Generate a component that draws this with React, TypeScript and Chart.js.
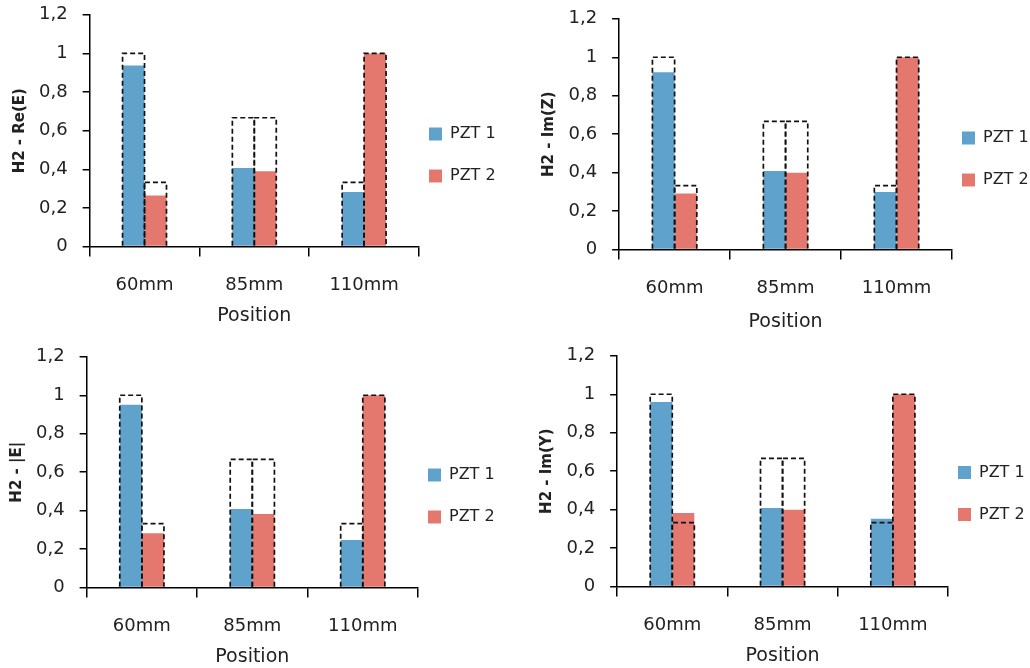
import React, { useEffect, useRef } from 'react';
import { Chart, registerables } from 'chart.js';

Chart.register(...registerables);

// ---------- data ----------
const categories = ['60mm', '85mm', '110mm'];
const seriesNames = ['PZT 1', 'PZT 2'];
const yTicks = [0, 0.2, 0.4, 0.6, 0.8, 1, 1.2];

// expected (dashed outline) values
const expectedPzt1 = [1, 0.667, 0.333];
const expectedPzt2 = [0.333, 0.667, 1];

// H2 - Re(E)
const reEPzt1 = [0.938, 0.407, 0.283];
const reEPzt2 = [0.264, 0.39, 1.0];
// H2 - Im(Z)
const imZPzt1 = [0.922, 0.409, 0.3];
const imZPzt2 = [0.292, 0.4, 1.0];
// H2 - |E|
const absEPzt1 = [0.951, 0.409, 0.247];
const absEPzt2 = [0.283, 0.383, 1.0];
// H2 - Im(Y)
const imYPzt1 = [0.96, 0.409, 0.353];
const imYPzt2 = [0.383, 0.4, 1.0];

const yTitles = ['H2 - Re(E)', 'H2 - Im(Z)', 'H2 - |E|', 'H2 - Im(Y)'];
const xTitle = 'Position';

// ---------- styles ----------
const FONT = 'DejaVu Sans';
const BLUE = '#5fa3cd';
const RED = '#e4786f';
const TEXT = '#222222';

const dashedOutline = {
  id: 'dashedOutline',
  afterDatasetsDraw(chart: any) {
    const ctx = chart.ctx;
    chart.data.datasets.forEach((ds: any, i: number) => {
      if (!ds.outlineOnly) return;
      const meta = chart.getDatasetMeta(i);
      ctx.save();
      ctx.setLineDash([5, 3]);
      ctx.lineWidth = 1.7;
      ctx.strokeStyle = '#111111';
      meta.data.forEach((el: any) => {
        const { x, y, base, width } = el.getProps(['x', 'y', 'base', 'width'], true);
        const left = x - width / 2;
        ctx.beginPath();
        ctx.moveTo(left, base);
        ctx.lineTo(left, y);
        ctx.lineTo(left + width, y);
        ctx.lineTo(left + width, base);
        ctx.stroke();
      });
      ctx.restore();
    });
  },
};

type PanelProps = {
  yTitle: string;
  pzt1: number[];
  pzt2: number[];
  left: number;
  top: number;
  width: number;
  height: number;
  padLeft: number;
  yTitlePadTop: number;
  xTitlePadTop: number;
  legendShift: number;
};

function Panel(p: PanelProps) {
  const ref = useRef<HTMLCanvasElement | null>(null);
  useEffect(() => {
    if (!ref.current) return;
    const chart = new Chart(ref.current, {
      type: 'bar',
      data: {
        labels: categories,
        datasets: [
          { label: seriesNames[0], data: p.pzt1, backgroundColor: BLUE, borderWidth: 0, stack: 's1' },
          { label: seriesNames[1], data: p.pzt2, backgroundColor: RED, borderWidth: 0, stack: 's2' },
          { label: 'exp1', data: expectedPzt1, backgroundColor: 'rgba(0,0,0,0)', borderWidth: 0, stack: 's1', outlineOnly: true } as any,
          { label: 'exp2', data: expectedPzt2, backgroundColor: 'rgba(0,0,0,0)', borderWidth: 0, stack: 's2', outlineOnly: true } as any,
        ],
      },
      options: {
        responsive: false,
        animation: false,
        devicePixelRatio: 1,
        layout: { padding: { left: p.padLeft, right: 0, top: 0, bottom: 0 } },
        datasets: { bar: { categoryPercentage: 0.4, barPercentage: 1 } },
        scales: {
          x: {
            type: 'category',
            offset: true,
            grid: {
              display: true,
              offset: true,
              drawOnChartArea: false,
              drawTicks: true,
              tickLength: 10,
              color: '#000',
              lineWidth: 1.5,
            },
            border: { display: true, color: '#000', width: 1.5 },
            ticks: { color: TEXT, padding: 18, font: { family: FONT, size: 18 } },
            title: {
              display: true,
              text: xTitle,
              color: TEXT,
              font: { family: FONT, size: 19 },
              padding: { top: p.xTitlePadTop, bottom: 0 },
            },
          },
          y: {
            min: 0,
            max: 1.2,
            stacked: false,
            afterBuildTicks: (scale: any) => {
              scale.ticks = yTicks.map((v) => ({ value: v }));
            },
            grid: {
              display: true,
              drawOnChartArea: false,
              drawTicks: true,
              tickLength: 7,
              color: '#000',
              lineWidth: 1.5,
            },
            border: { display: true, color: '#000', width: 1.5 },
            ticks: {
              color: TEXT,
              padding: 15,
              font: { family: FONT, size: 18 },
              callback: (v: any) => String(Math.round(Number(v) * 10) / 10).replace('.', ','),
            },
            title: {
              display: true,
              text: p.yTitle,
              color: TEXT,
              font: { family: FONT, size: 15, weight: 'bold' },
              padding: { top: p.yTitlePadTop, bottom: -5 },
            },
          },
        },
        plugins: {
          tooltip: { enabled: false },
          legend: {
            display: true,
            position: 'right',
            maxWidth: 78,
            title: {
              display: true,
              text: ' ',
              font: { family: FONT, size: p.legendShift * 2, lineHeight: 1 },
              padding: 0,
            },
            labels: {
              boxWidth: 13,
              boxHeight: 13,
              padding: 10,
              color: TEXT,
              font: { family: FONT, size: 16, lineHeight: 2 },
              generateLabels: (chart: any) =>
                Chart.defaults.plugins.legend.labels
                  .generateLabels(chart)
                  .map((it: any) => ({ ...it, text: [it.text] })),
              filter: (item: any, data: any) => !data.datasets[item.datasetIndex].outlineOnly,
            },
          },
        },
      } as any,
      plugins: [dashedOutline],
    });
    return () => chart.destroy();
  }, []);
  return (
    <canvas
      ref={ref}
      width={p.width}
      height={p.height}
      style={{ position: 'absolute', left: p.left, top: p.top, width: p.width, height: p.height }}
    />
  );
}

export default function App() {
  return (
    <div
      style={{
        position: 'fixed',
        left: 0,
        top: 0,
        width: 1030,
        height: 668,
        overflow: 'hidden',
        background: '#ffffff',
      }}
    >
      <Panel yTitle={yTitles[0]} pzt1={reEPzt1} pzt2={reEPzt2} left={0} top={-11} width={497} height={338} padLeft={0} yTitlePadTop={11} xTitlePadTop={-10} legendShift={5} />
      <Panel yTitle={yTitles[1]} pzt1={imZPzt1} pzt2={imZPzt2} left={515} top={-7} width={515} height={340} padLeft={14} yTitlePadTop={11.5} xTitlePadTop={-7} legendShift={4} />
      <Panel yTitle={yTitles[2]} pzt1={absEPzt1} pzt2={absEPzt2} left={0} top={331} width={496} height={337} padLeft={0} yTitlePadTop={8} xTitlePadTop={-10} legendShift={4.5} />
      <Panel yTitle={yTitles[3]} pzt1={imYPzt1} pzt2={imYPzt2} left={515} top={330} width={511} height={337} padLeft={12} yTitlePadTop={11.5} xTitlePadTop={-10} legendShift={3} />
    </div>
  );
}
